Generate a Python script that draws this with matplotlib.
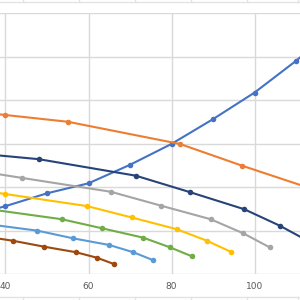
import matplotlib
matplotlib.use('Agg')
import matplotlib.pyplot as plt
from matplotlib.lines import Line2D

# series data (x, y); first/last points of some series lie outside the crop
blue_x = [30, 40, 50, 60, 70, 80, 90, 100, 110, 120]
blue_y = [13.0, 15.6, 18.55, 20.85, 25.1, 29.9, 35.6, 41.7, 49.0, 57.0]

orange_x = [25, 40, 55, 82, 97, 115]
orange_y = [38.0, 36.55, 35.0, 29.9, 24.9, 19.2]

navy_x = [30, 48, 71.4, 84.5, 97.5, 106.1, 115]
navy_y = [28.0, 26.4, 22.6, 18.8, 14.9, 11.1, 6.5]

gray_x = [30, 43.9, 65.4, 77.5, 89.4, 97.3, 103.7]
gray_y = [24.2, 22.1, 18.9, 15.7, 12.6, 9.35, 6.1]

yellow_x = [30, 39.9, 59.7, 70.4, 81.25, 88.5, 94.3]
yellow_y = [19.8, 18.4, 15.6, 13.0, 10.3, 7.66, 5.1]

green_x = [33, 53.5, 63.3, 73.2, 79.6, 84.9]
green_y = [15.3, 12.6, 10.5, 8.35, 6.14, 4.07]

lblue_x = [33, 47.7, 56.3, 65.0, 70.8, 75.5]
lblue_y = [11.8, 9.96, 8.2, 6.67, 5.0, 3.2]

brown_x = [33, 41.7, 49.3, 57.0, 62.0, 66.1]
brown_y = [8.9, 7.66, 6.28, 5.0, 3.75, 2.3]

x_ticks = [40, 60, 80, 100]

series = [
    (blue_x, blue_y, '#4472C4'),
    (orange_x, orange_y, '#ED7D31'),
    (navy_x, navy_y, '#264478'),
    (gray_x, gray_y, '#A5A5A5'),
    (yellow_x, yellow_y, '#FFC000'),
    (green_x, green_y, '#70AD47'),
    (lblue_x, lblue_y, '#5B9BD5'),
    (brown_x, brown_y, '#9E480E'),
]

fig = plt.figure(figsize=(3, 3), dpi=100)
fig.patch.set_facecolor('white')

# worksheet cell lines behind the chart
for yy in [2.3 / 300, 297.3 / 300]:
    fig.add_artist(Line2D([0, 1], [1 - yy, 1 - yy], color='#e3e3e3', lw=1.0))
for xx in [22.7, 78.7, 134.7, 190.7, 246.7, 297.7]:
    fig.add_artist(Line2D([xx / 300, xx / 300], [1, 1 - 2.3 / 300], color='#e3e3e3', lw=1.0))
    fig.add_artist(Line2D([xx / 300, xx / 300], [0, 2.7 / 300], color='#e3e3e3', lw=1.0))

ax = fig.add_axes([0, 26 / 300, 1, 261 / 300])
ax.set_xlim(38.675, 110.96)
ax.set_ylim(0, 60)

for xs, ys, c in series:
    ax.plot(xs, ys, color=c, lw=1.5, marker='o', markersize=4, markeredgewidth=0)

ax.set_xticks(x_ticks)
ax.set_xticklabels([str(t) for t in x_ticks])
ax.set_yticks(range(0, 61, 10))
ax.tick_params(axis='x', length=0, pad=6, labelsize=6.5, labelcolor='#595959')
ax.tick_params(axis='y', length=0, labelleft=False)
ax.grid(True, color='#d9d9d9', lw=1.0)
ax.set_axisbelow(True)
for s in ax.spines.values():
    s.set_visible(False)

fig.savefig('out.png', dpi=100)
